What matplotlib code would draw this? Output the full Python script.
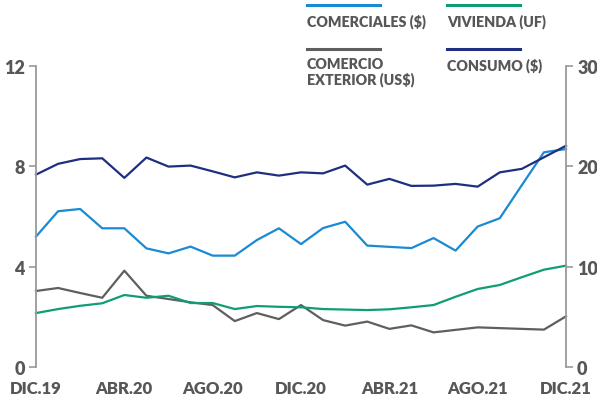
import matplotlib.pyplot as plt
from matplotlib.lines import Line2D

# monthly series, Dic.19 .. Dic.21
comerciales = [5.2, 6.21, 6.3, 5.53, 5.53, 4.73, 4.53, 4.8, 4.44, 4.44, 5.06, 5.53, 4.9,
               5.54, 5.79, 4.84, 4.79, 4.74, 5.14, 4.64, 5.6, 5.93, 7.25, 8.56, 8.69]
vivienda = [2.15, 2.31, 2.44, 2.54, 2.87, 2.76, 2.84, 2.55, 2.55, 2.31, 2.43, 2.4, 2.38,
            2.31, 2.29, 2.27, 2.3, 2.38, 2.47, 2.8, 3.11, 3.27, 3.58, 3.88, 4.04]
comex = [3.03, 3.15, 2.95, 2.76, 3.84, 2.84, 2.71, 2.58, 2.47, 1.83, 2.15, 1.91, 2.47,
         1.87, 1.65, 1.81, 1.52, 1.66, 1.38, 1.48, 1.58, 1.55, 1.52, 1.49, 2.02]
consumo = [7.67, 8.1, 8.29, 8.32, 7.54, 8.35, 7.99, 8.03, 7.8, 7.56, 7.76, 7.63, 7.76,
           7.72, 8.03, 7.27, 7.5, 7.22, 7.23, 7.3, 7.19, 7.76, 7.9, 8.36, 8.82]
x_labels = ['DIC.19', 'ABR.20', 'AGO.20', 'DIC.20', 'ABR.21', 'AGO.21', 'DIC.21']
left_ticks = [0, 4, 8, 12]
right_ticks = [0, 10, 20, 30]

c_com = '#1a8ad4'
c_viv = '#0f9d76'
c_cex = '#5f5f5f'
c_con = '#1f2f80'
txt = '#575757'
spine_c = '#9a9a9a'

plt.rcParams['font.family'] = ['Lato', 'DejaVu Sans']
plt.rcParams['font.weight'] = 'heavy'

fig = plt.figure(figsize=(5.97, 4.02), dpi=100)
ax = fig.add_axes([36 / 597, 1 - 368 / 402, (566 - 36) / 597, (368 - 67) / 402])
x = list(range(len(comerciales)))

for ys, c in [(comex, c_cex), (vivienda, c_viv), (comerciales, c_com), (consumo, c_con)]:
    ax.plot(x, ys, color=c, lw=1.6, clip_on=False)

ax.set_xlim(0, 24)
ax.set_ylim(0, 12)
ax.set_yticks(left_ticks)
ax.set_xticks(range(0, 25, 4))
ax.set_xticklabels(x_labels)

ax2 = ax.twinx()
ax2.set_ylim(0, 30)
ax2.set_yticks(right_ticks)

for a in (ax, ax2):
    for s in ['top', 'bottom']:
        a.spines[s].set_visible(False)
    a.spines['left'].set_color(spine_c)
    a.spines['right'].set_color(spine_c)
    a.spines['left'].set_linewidth(1.3)
    a.spines['right'].set_linewidth(1.3)
    a.tick_params(axis='y', length=5, width=1.2, color=spine_c, labelcolor=txt,
                  labelsize=13, pad=3)
ax.spines['right'].set_visible(False)
ax2.spines['left'].set_visible(False)
ax.tick_params(axis='x', length=0, labelcolor=txt, labelsize=12, pad=9)

# legend drawn above the plot
items = [(c_com, 'COMERCIALES ($)', 307, 6),
         (c_viv, 'VIVIENDA (UF)', 447, 6),
         (c_cex, 'COMERCIO\nEXTERIOR (US$)', 307, 50),
         (c_con, 'CONSUMO ($)', 447, 50)]
for c, lab, px, py in items:
    fig.add_artist(Line2D([px / 597, (px + 73) / 597], [1 - py / 402, 1 - py / 402],
                          color=c, lw=2.2))
    fig.text(px / 597, 1 - (py + 8) / 402, lab, color=txt, fontsize=10.3,
             va='top', ha='left', linespacing=1.15)

fig.savefig('out.png', dpi=100)
